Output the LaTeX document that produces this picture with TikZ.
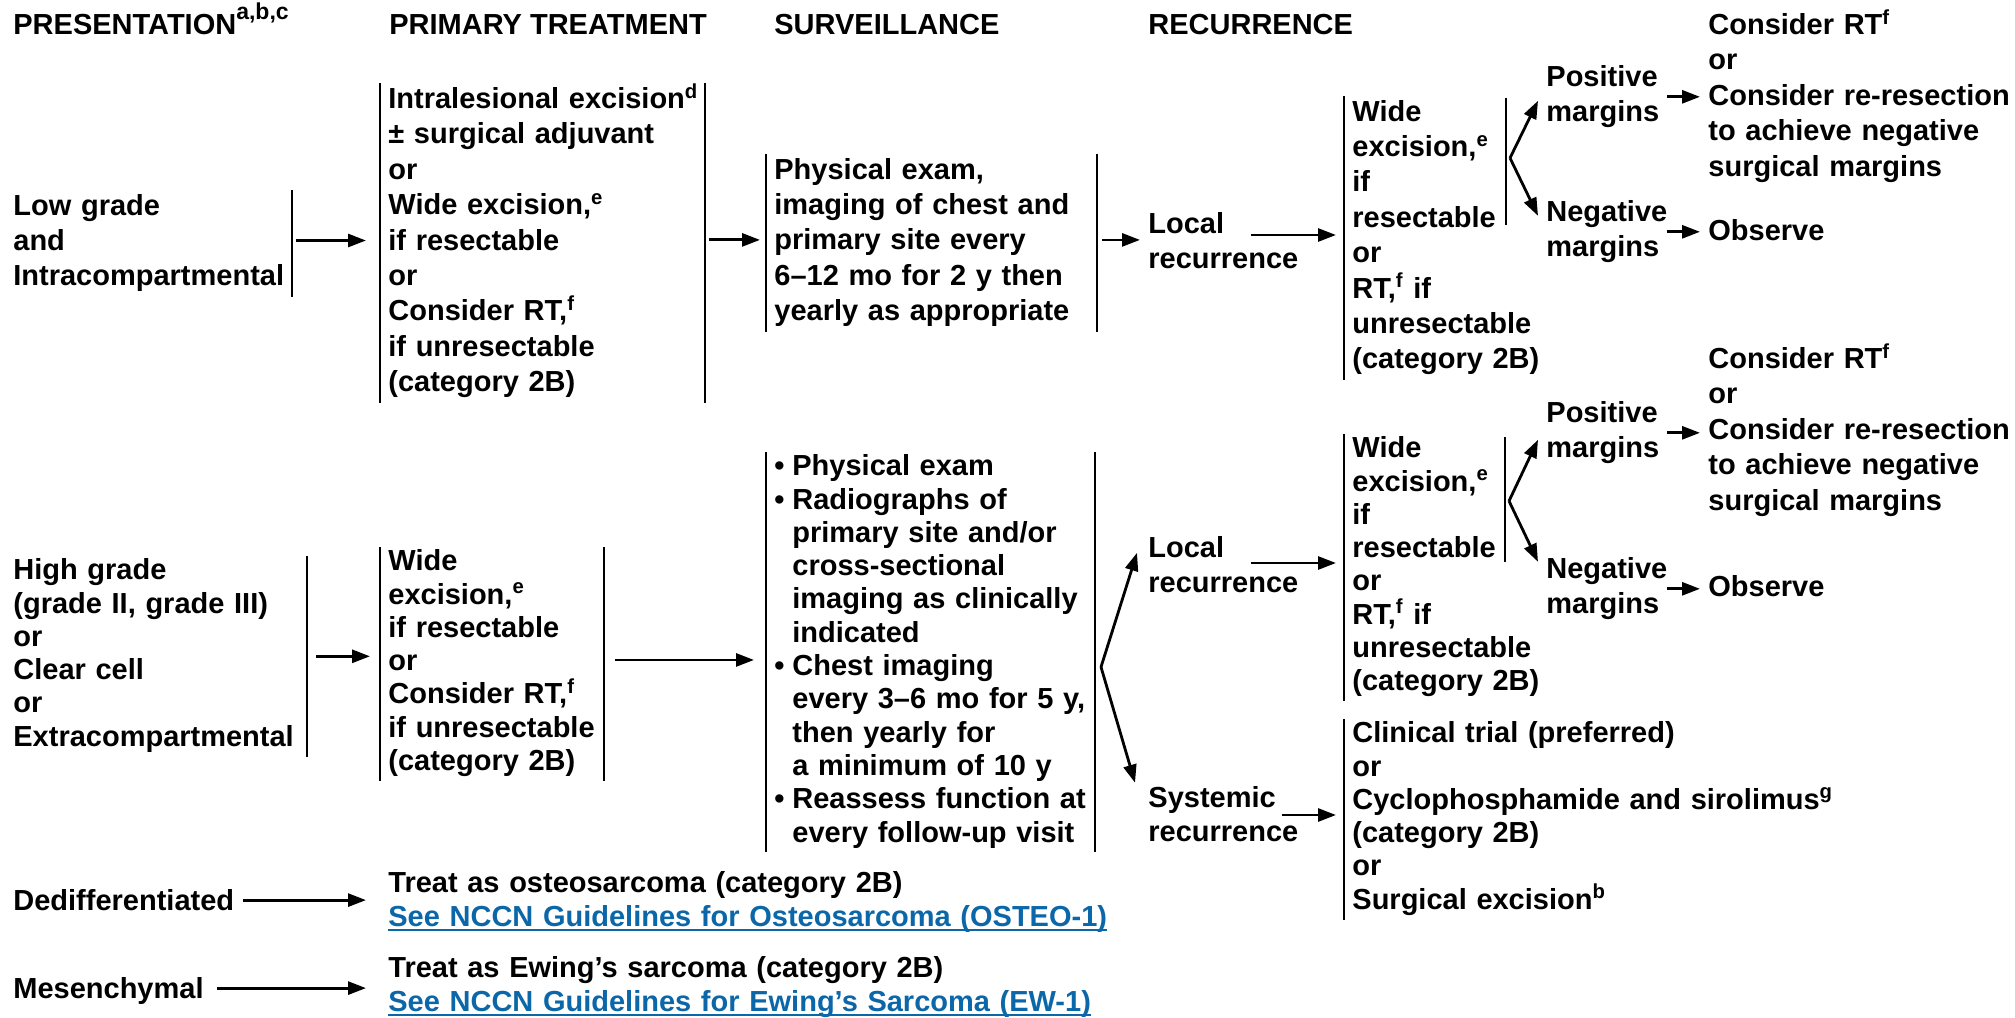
\documentclass[tikz,border=0pt]{standalone}
\usepackage{fontspec}
\setmainfont{Liberation Sans}
\usetikzlibrary{arrows.meta,calc}
\definecolor{linkblue}{HTML}{0B67A8}
\newcommand\mylink[1]{\textcolor{linkblue}{\setbox0\hbox{#1}\rlap{\rule[-2.6pt]{\wd0}{1pt}}\box0}}
\newcommand\bul{\makebox[9pt][l]{•}}
\newcommand\ind{\hspace*{9pt}}
\newcommand\hsup[1]{\raisebox{0.5em}[0pt][0pt]{\fontsize{11.5}{12}\selectfont #1}}
\begin{document}
\begin{tikzpicture}[x=0.5pt,y=-0.5pt,
 base/.style={anchor=north west, inner xsep=4pt, inner ysep=0pt, align=left,
   execute at begin node={\parindent=0pt\hyphenpenalty=10000\strut},
   execute at end node={\strut}},
 t1/.style={base, font=\fontsize{14.5}{17.7}\selectfont\bfseries},
 t2/.style={base, font=\fontsize{14.5}{16.65}\selectfont\bfseries},
 mg/.style={t1, inner xsep=0pt, text width=60pt},
 bar/.style={line width=1.2pt},
 arr/.style={line width=1.4pt, -{Triangle[length=9pt,width=6.5pt]}},
]
\fill[white] (0,0) rectangle (2015,1018);
\useasboundingbox (0,0) rectangle (2015,1018);

% headers
\node[t1] (h1) at (5,9) {PRESENTATION\hsup{a,b,c}};
\node[t1] (h2) at (381,9) {PRIMARY TREATMENT};
\node[t1] (h3) at (766,9) {SURVEILLANCE};
\node[t1] (h4) at (1140,9) {RECURRENCE};

% row 1
\node[t1, text width=135pt] (low1) at (5,190) {Low grade\\and\\Intracompartmental};
\node[t1, text width=154pt] (prim1) at (380,83) {\mbox{Intralesional excision\textsuperscript{d}}\\± surgical adjuvant\\or\\Wide excision,\textsuperscript{e}\\if resectable\\or\\Consider RT,\textsuperscript{f}\\if unresectable\\(category 2B)};
\node[t1, text width=157pt] (surv1) at (766,154) {Physical exam,\\imaging of chest and\\primary site every\\6–12 mo for 2 y then\\yearly as appropriate};
\node[t1, text width=80pt] (loc1) at (1140,208) {Local\\recurrence};
\node[t1, text width=100pt] (rec1) at (1344,96) {Wide\\excision,\textsuperscript{e}\\if\\resectable\\or\\RT,\textsuperscript{f} if\\unresectable\\(category 2B)};
\node[mg] (pos1) at (1546,61) {Positive\\margins};
\node[mg] (neg1) at (1546,196) {Negative\\margins};
\node[t1, text width=155pt] (cons1) at (1700,9) {Consider RT\textsuperscript{f}\\or\\Consider re-resection\\to achieve negative\\surgical margins};
\node[t1] (obs1) at (1700,215) {Observe};

% row 2
\node[t2, text width=142.5pt] (high2) at (5,556) {High grade\\(grade II, grade III)\\or\\Clear cell\\or\\Extracompartmental};
\node[t2, text width=103.5pt] (prim2) at (380,547) {Wide\\excision,\textsuperscript{e}\\if resectable\\or\\Consider RT,\textsuperscript{f}\\if unresectable\\(category 2B)};
\node[t2, text width=156pt] (surv2) at (766,452) {\bul Physical exam\\\bul Radiographs of\\\ind primary site and/or\\\ind cross-sectional\\\ind imaging as clinically\\\ind indicated\\\bul Chest imaging\\\ind every 3–6 mo for 5 y,\\\ind then yearly for\\\ind a minimum of 10 y\\\bul Reassess function at\\\ind every follow-up visit};
\node[t1, text width=80pt] (loc2) at (1140,532) {Local\\recurrence};
\node[t2, text width=80pt] (sys2) at (1140,784) {Systemic\\recurrence};
\node[t2, text width=100pt] (rec2) at (1344,434) {Wide\\excision,\textsuperscript{e}\\if\\resectable\\or\\RT,\textsuperscript{f} if\\unresectable\\(category 2B)};
\node[mg] (pos2) at (1546,397) {Positive\\margins};
\node[mg] (neg2) at (1546,553) {Negative\\margins};
\node[t1, text width=155pt] (cons2) at (1700,343) {Consider RT\textsuperscript{f}\\or\\Consider re-resection\\to achieve negative\\surgical margins};
\node[t1] (obs2) at (1700,571) {Observe};
\node[t2, text width=250pt] (systx) at (1344,719) {Clinical trial (preferred)\\or\\Cyclophosphamide and sirolimus\textsuperscript{g}\\(category 2B)\\or\\Surgical excision\textsuperscript{b}};

% row 3
\node[t1] (ded3) at (5,885) {Dedifferentiated};
\node[t2, text width=380pt] (oste3) at (380,869) {Treat as osteosarcoma (category 2B)\\\mylink{See NCCN Guidelines for Osteosarcoma (OSTEO-1)}};
\node[t1] (mes3) at (5,973) {Mesenchymal};
\node[t2, text width=380pt] (ewing3) at (380,954) {Treat as Ewing’s sarcoma (category 2B)\\\mylink{See NCCN Guidelines for Ewing’s Sarcoma (EW-1)}};

% bars
\draw[bar] (low1.north east) -- (low1.south east);
\draw[bar] (prim1.north west) -- (prim1.south west);
\draw[bar] (prim1.north east) -- (prim1.south east);
\draw[bar] (surv1.north west) -- (surv1.south west);
\draw[bar] (surv1.north east) -- (surv1.south east);
\draw[bar] (rec1.north west) -- (rec1.south west);
\draw[bar] ($(rec1.north west)+(162,2)$) -- ($(rec1.north west)+(162,129)$);
\draw[bar] (high2.north east) -- (high2.south east);
\draw[bar] (prim2.north west) -- (prim2.south west);
\draw[bar] (prim2.north east) -- (prim2.south east);
\draw[bar] (surv2.north west) -- (surv2.south west);
\draw[bar] (surv2.north east) -- (surv2.south east);
\draw[bar] (rec2.north west) -- (rec2.south west);
\draw[bar] ($(rec2.north west)+(161,3)$) -- ($(rec2.north west)+(161,128)$);
\draw[bar] (systx.north west) -- (systx.south west);

% branch points and arrow origins
\coordinate (br1) at (1510,158);
\coordinate (br2) at (1509,501);
\coordinate (br0) at (1101,667);
\coordinate (l1o) at ($(loc1.north west)+(111,27)$);
\coordinate (l2o) at ($(loc2.north west)+(111,31)$);
\coordinate (s2o) at ($(sys2.north west)+(142,31)$);

% arrows row 1
\draw[arr, shorten <=2pt, shorten >=7pt] ([yshift=1.5pt]low1.east) -- ([yshift=1.5pt]low1.east -| prim1.west);
\draw[arr, shorten <=2pt, shorten >=3pt] ([yshift=1.5pt]prim1.east) -- ([yshift=1.5pt]prim1.east -| surv1.west);
\draw[arr, shorten <=2.5pt] ([yshift=1.5pt]surv1.east) -- ([yshift=1.5pt]surv1.east -| loc1.west);
\draw[arr, shorten >=4pt] (l1o) -- (l1o -| rec1.west);
\draw[arr] (br1) -- ([xshift=-4pt,yshift=-2pt]pos1.west);
\draw[arr] (br1) -- ([xshift=-4pt,yshift=8pt]neg1.west);
\draw[arr] (pos1.east) -- (pos1.east -| cons1.west);
\draw[arr] (neg1.east) -- (neg1.east -| obs1.west);

% arrows row 2
\draw[arr, shorten <=4.5pt, shorten >=5pt] (high2.east) -- (high2.east -| prim2.west);
\draw[arr, shorten <=5.5pt, shorten >=6pt] ([yshift=2pt]prim2.east) -- ([yshift=2pt]prim2.east -| surv2.west);
\draw[arr] (br0) -- ([xshift=-1.5pt,yshift=7.5pt]loc2.west);
\draw[arr] (br0) -- ([xshift=-2.5pt,yshift=17.5pt]sys2.west);
\draw[arr, shorten >=4pt] (l2o) -- (l2o -| rec2.west);
\draw[arr, shorten >=4pt] (s2o) -- (s2o -| systx.west);
\draw[arr] (br2) -- ([xshift=-4pt,yshift=-3.5pt]pos2.west);
\draw[arr] (br2) -- ([xshift=-4pt,yshift=13.5pt]neg2.west);
\draw[arr] (pos2.east) -- (pos2.east -| cons2.west);
\draw[arr] (neg2.east) -- (neg2.east -| obs2.west);

% arrows row 3
\draw[arr, shorten >=7pt] ([yshift=1.5pt]ded3.east) -- ([yshift=1.5pt]ded3.east -| oste3.west);
\draw[arr, shorten <=2.5pt, shorten >=7pt] ([yshift=1.5pt]mes3.east) -- ([yshift=1.5pt]mes3.east -| ewing3.west);
\end{tikzpicture}
\end{document}
